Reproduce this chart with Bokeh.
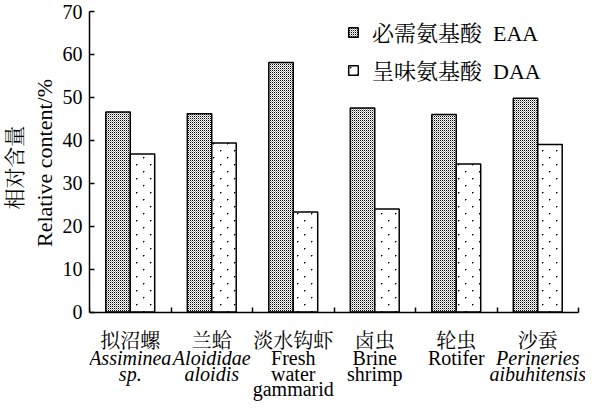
import base64, struct, zlib
import numpy as np
from bokeh.plotting import figure
from bokeh.models import (FixedTicker, Range1d, Legend, LegendItem,
                          ColumnDataSource, ImageURLTexture, Title)
from bokeh.core.properties import value
from bokeh.embed import file_html
from bokeh.resources import INLINE

cn_names = ["拟沼螺", "兰蛤", "淡水钩虾", "卤虫", "轮虫", "沙蚕"]
latin_names = ["Assiminea\nsp.", "Aloididae\naloidis", "Fresh\nwater\ngammarid",
               "Brine\nshrimp", "Rotifer", "Perineries\naibuhitensis"]
latin_italic = [True, True, False, False, False, True]
eaa = [46.6, 46.2, 58.1, 47.5, 46.0, 49.8]
daa = [36.8, 39.4, 23.3, 24.0, 34.5, 39.0]
series_names = ["必需氨基酸  EAA", "呈味氨基酸  DAA"]
y_title_en = "Relative content/%"
y_title_cn = "相对含量"
y_ticks = [0, 10, 20, 30, 40, 50, 60, 70]
y_max = 70

SERIF = "'Liberation Serif', 'Noto Serif CJK SC', 'Noto Sans CJK SC'"
FS = "20px"
W, H = 585, 402
BL, BR, BT, BB = 88, 0, 11, 0
ZERO_PX = 310            # pixel row (from top of figure) of the value 0
FRAME_BOTTOM = 400       # approximate pixel row of the frame bottom
NBSP = "\u00a0"
n = len(cn_names)


def png_url(size, dots):
    """Small RGBA tile (transparent) with dark dots, as a data URL."""
    img = [[(0, 0, 0, 0)] * size for _ in range(size)]
    for (cx, cy, a) in dots:
        img[cy][cx] = (0, 0, 0, a)
    raw = b"".join(b"\x00" + b"".join(bytes(px) for px in row) for row in img)

    def chunk(t, d):
        return struct.pack(">I", len(d)) + t + d + struct.pack(">I", zlib.crc32(t + d) & 0xffffffff)
    data = (b"\x89PNG\r\n\x1a\n" + chunk(b"IHDR", struct.pack(">IIBBBBB", size, size, 8, 6, 0, 0, 0))
            + chunk(b"IDAT", zlib.compress(raw)) + chunk(b"IEND", b""))
    return "data:image/png;base64," + base64.b64encode(data).decode()


dense_tex = ImageURLTexture(url=png_url(2, [(0, 0, 255), (1, 1, 90)]))
sparse_tex = ImageURLTexture(url=png_url(14, [(3, 3, 255), (4, 3, 120), (3, 4, 120),
                                              (10, 10, 255), (11, 10, 120), (10, 11, 120)]))

# scales: the frame extends below zero to hold the category names
k = (ZERO_PX - BT) / y_max                      # px per unit (y)
y_start = -(FRAME_BOTTOM - ZERO_PX) / k
cat_px = 490 / n                                 # px per category
x_end = n + (W - BL - BR - 490) / cat_px

idx = np.arange(n)
src = ColumnDataSource(dict(x_e=idx + 0.5 - 0.15, x_d=idx + 0.5 + 0.15, eaa=eaa, daa=daa))

p = figure(width=W, height=H, output_backend="svg", toolbar_location=None,
           x_range=Range1d(0, x_end), y_range=Range1d(y_start, y_max),
           min_border_left=BL, min_border_right=BR, min_border_top=BT, min_border_bottom=BB)
p.outline_line_color = None
p.xgrid.visible = False
p.ygrid.visible = False

r1 = p.vbar(x="x_e", top="eaa", width=0.3, source=src, fill_color="white",
            line_color="black", line_width=1.5, hatch_pattern=value("eaa_tex"),
            hatch_extra={"eaa_tex": dense_tex}, hatch_color="black")
r2 = p.vbar(x="x_d", top="daa", width=0.3, source=src, fill_color="white",
            line_color="black", line_width=1.5, hatch_pattern=value("daa_tex"),
            hatch_extra={"daa_tex": sparse_tex}, hatch_color="black")

# x axis, drawn at value 0
xa = p.xaxis[0]
xa.fixed_location = 0
xa.bounds = (0, n)
xa.ticker = FixedTicker(ticks=list(range(n + 1)))
xa.major_label_overrides = {i: "" for i in range(n + 1)}
xa.major_label_text_font_size = "1px"
xa.major_tick_in = 5
xa.major_tick_out = 0
xa.minor_tick_line_color = None
xa.major_label_standoff = 0
xa.axis_line_width = 1.5
xa.major_tick_line_width = 1.5

# y axis
ya = p.yaxis[0]
ya.bounds = (0, y_max)
ya.ticker = FixedTicker(ticks=y_ticks)
ya.major_tick_in = 5
ya.major_tick_out = 0
ya.minor_tick_line_color = None
ya.axis_line_width = 1.5
ya.major_tick_line_width = 1.5
ya.major_label_text_font = SERIF
ya.major_label_text_font_size = FS
ya.major_label_text_color = "black"
ya.major_label_standoff = 7

# axis titles (leading no-break spaces lift them to the middle of the 0-70 span)
t_en = Title(text=NBSP * 16 + y_title_en, align="center", standoff=6,
             text_font=SERIF, text_font_size="22px", text_font_style="normal",
             text_color="black")
t_cn = Title(text=NBSP * 15 + y_title_cn, align="center", standoff=0,
             text_font=SERIF, text_font_size="21px", text_font_style="normal",
             text_color="black")
p.add_layout(t_en, "left")
p.add_layout(t_cn, "left")

legend = Legend(items=[LegendItem(label=series_names[0], renderers=[r1]),
                       LegendItem(label=series_names[1], renderers=[r2])],
                location=(258, (FRAME_BOTTOM - BT) - 72), padding=0, margin=0,
                border_line_color=None,
                background_fill_alpha=0, glyph_width=12, glyph_height=12,
                label_height=22, spacing=7, label_standoff=13,
                label_text_font=SERIF, label_text_font_size="22px",
                label_text_color="black")
p.add_layout(legend)

# category names below the axis
row_px = [29, 46, 62, 77]
xs, ys, txt, styles = [], [], [], []
for i in range(n):
    xs.append(i + 0.5); ys.append(-row_px[0] / k); txt.append(cn_names[i]); styles.append("normal")
    for j, line in enumerate(latin_names[i].split("\n")):
        xs.append(i + 0.5); ys.append(-row_px[j + 1] / k); txt.append(line)
        styles.append("italic" if latin_italic[i] else "normal")
lab = ColumnDataSource(dict(x=xs, y=ys, text=txt, style=styles))
p.text(x="x", y="y", text="text", source=lab, text_align="center", text_baseline="middle",
       text_font=value(SERIF), text_font_size=value(FS), text_font_style="style",
       text_color="black")

open("out.html", "w").write(file_html(p, INLINE))
